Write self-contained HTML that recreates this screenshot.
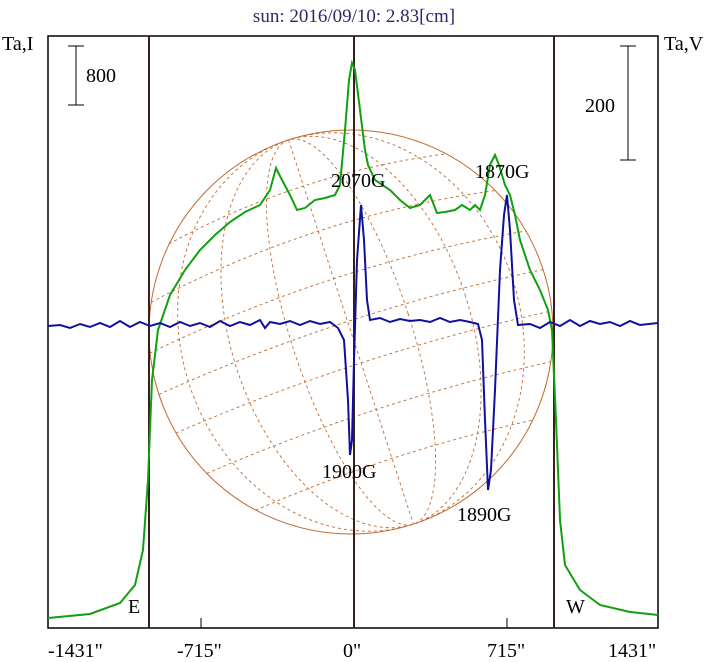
<!DOCTYPE html>
<html><head><style>body{margin:0;background:#fff}svg{display:block}text{font-family:"Liberation Serif",serif}</style></head><body>
<svg width="708" height="662" viewBox="0 0 708 662" xmlns="http://www.w3.org/2000/svg">
<rect width="708" height="662" fill="#fff"/>
<text x="354" y="22" font-size="19" fill="#2a2a6a" text-anchor="middle">sun: 2016/09/10: 2.83[cm]</text>
<text x="2" y="50" font-size="20">Ta,I</text>
<text x="664" y="50" font-size="20">Ta,V</text>
<!-- sun -->
<g fill="none" stroke="#c06a30" stroke-width="1">
<circle cx="351" cy="332" r="202"/>
<g stroke-dasharray="3,3" stroke-width="0.9" transform="rotate(-18 351 332)">
<ellipse cx="351" cy="332" rx="60" ry="202"/>
<ellipse cx="351" cy="332" rx="120" ry="202"/>
<ellipse cx="351" cy="332" rx="170" ry="202"/>
<line x1="351" y1="130" x2="351" y2="534"/>
<path d="M170 242 Q351 210 532 242"/>
<path d="M153 290 Q351 262 549 290"/>
<path d="M149 332 Q351 310 553 332"/>
<path d="M153 374 Q351 355 549 374"/>
<path d="M170 422 Q351 405 532 422"/>
<path d="M205 472 Q351 458 497 472"/>
<path d="M205 192 Q351 165 497 192"/>
</g></g>
<rect x="48" y="36" width="610" height="592" fill="none" stroke="#000" stroke-width="1.5"/>
<g stroke="#3a1e1e" stroke-width="2"><line x1="149" y1="36" x2="149" y2="628"/><line x1="354" y1="36" x2="354" y2="628"/><line x1="554" y1="36" x2="554" y2="628"/></g>
<g stroke="#000" stroke-width="1"><line x1="201" y1="618" x2="201" y2="628"/><line x1="507" y1="618" x2="507" y2="628"/>
<line x1="76" y1="46" x2="76" y2="105"/><line x1="68" y1="46" x2="84" y2="46"/><line x1="68" y1="105" x2="84" y2="105"/>
<line x1="628" y1="46" x2="628" y2="160"/><line x1="620" y1="46" x2="636" y2="46"/><line x1="620" y1="160" x2="636" y2="160"/></g>
<text x="86" y="82" font-size="20">800</text>
<text x="585" y="112" font-size="20">200</text>
<polyline fill="none" stroke="#10a010" stroke-width="2" points="48,618 90,614 120,603 135,585 143,550 148,480 152,380 158,330 170,295 185,270 200,250 215,235 230,222 245,212 260,205 270,190 276,168 282,180 290,195 297,210 305,208 315,200 325,198 335,195 340,185 345,130 349,80 352,63 355,70 360,110 365,150 368,165 375,180 390,190 400,200 410,208 420,205 425,200 430,195 437,213 445,212 455,210 462,205 470,210 475,205 480,210 485,195 490,165 495,155 499,165 505,185 510,195 515,215 520,240 530,270 540,290 548,310 552,330 556,420 560,520 565,565 580,590 600,605 630,612 658,615"/>
<polyline fill="none" stroke="#1010a0" stroke-width="2" points="48,326 60,325 70,328 80,324 90,327 100,323 110,327 120,321 130,327 140,322 150,326 160,323 170,327 180,322 190,326 200,323 210,327 220,321 230,326 240,322 250,325 260,320 265,328 270,322 280,324 290,321 300,325 310,321 320,324 330,322 338,328 344,340 348,400 350,455 352,440 354,360 357,260 361,205 364,240 367,300 370,320 380,318 390,322 400,319 410,321 420,320 430,322 440,318 450,322 460,320 470,322 478,324 482,340 485,420 488,490 491,470 495,390 500,270 504,215 507,195 510,230 514,300 518,325 530,324 540,328 550,322 560,326 570,320 580,326 590,321 600,324 610,322 620,326 630,321 640,325 658,323"/>
<g font-size="20" fill="#000">
<text x="331" y="187">2070G</text><text x="475" y="178">1870G</text>
<text x="322" y="478">1900G</text><text x="457" y="521">1890G</text>
<text x="128" y="613">E</text><text x="566" y="613">W</text>
<text x="48" y="657">-1431"</text><text x="177" y="657">-715"</text><text x="343" y="657">0"</text><text x="487" y="657">715"</text><text x="608" y="657">1431"</text>
</g>
</svg>
</body></html>
